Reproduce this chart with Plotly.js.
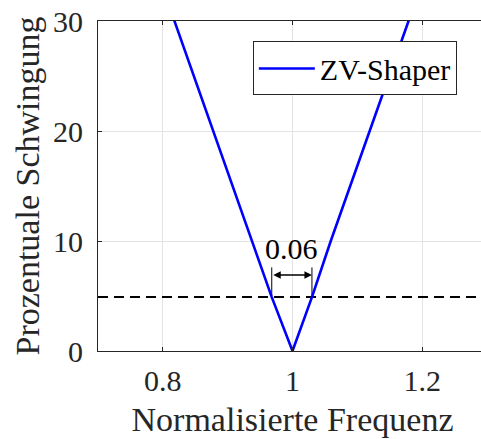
<!DOCTYPE html>
<html>
<head>
<meta charset="utf-8">
<script src="https://cdn.plot.ly/plotly-3.0.1.min.js"></script>
<style>
html, body { margin: 0; padding: 0; overflow: hidden; background: #fff; }
#chart { width: 489px; height: 439px; }
</style>
</head>
<body>
<div id="chart"></div>
<script>
// ZV-Shaper residual vibration
const freq = [0.800, 0.818, 0.848, 0.878, 0.908, 0.938, 0.968, 1.000, 1.030, 1.059, 1.089, 1.118, 1.149, 1.179, 1.200];
const vib  = [33.0, 30.0, 25.0, 20.0, 15.0, 10.0, 4.9, 0.0, 4.9, 10.0, 15.0, 20.0, 25.0, 30.0, 33.4];

// 5 % threshold line
const threshX = [0.7, 1.3];
const threshY = [4.9, 4.9];

// bandwidth marker
const bandLeft = 0.968;
const bandRight = 1.030;
const bandLow = 4.9;
const bandHigh = 7.6;
const arrowY = 6.9;
const bandLabel = '0.06';
const bandLabelY = 9.3;

const xTicks = [0.8, 1, 1.2];
const xTickText = ['0.8', '1', '1.2'];
const yTicks = [0, 10, 20, 30];
const yTickText = ['0', '10', '20', '30'];

const FONT_FAMILY = 'Liberation Serif';
const DARK = '#262626';

const traces = [
  {
    x: threshX, y: threshY, mode: 'lines', showlegend: false, hoverinfo: 'skip',
    line: { color: '#000', width: 2, dash: '10px,6px' }
  },
  {
    x: [bandLeft, bandLeft], y: [bandLow, bandHigh], mode: 'lines', showlegend: false, hoverinfo: 'skip',
    line: { color: '#000', width: 1 }
  },
  {
    x: [bandRight, bandRight], y: [bandLow, bandHigh], mode: 'lines', showlegend: false, hoverinfo: 'skip',
    line: { color: '#000', width: 1 }
  },
  {
    x: freq, y: vib, mode: 'lines', name: 'ZV-Shaper',
    line: { color: '#0000ff', width: 2.6 }
  }
];

const layout = {
  width: 489, height: 439,
  margin: { l: 98, r: 2, t: 21, b: 88, pad: 0 },
  paper_bgcolor: '#fff', plot_bgcolor: '#fff',
  font: { family: FONT_FAMILY, color: DARK },
  showlegend: true,
  legend: {
    x: 0.398, y: 0.938, xanchor: 'left', yanchor: 'top',
    bgcolor: '#fff', bordercolor: DARK, borderwidth: 1,
    font: { family: FONT_FAMILY, size: 30, color: '#000' },
    itemwidth: 56
  },
  xaxis: {
    range: [0.7, 1.3], tickvals: xTicks, ticktext: xTickText,
    ticks: 'inside', ticklen: 4, tickwidth: 1, tickcolor: DARK,
    showline: true, linecolor: DARK, linewidth: 1, mirror: 'ticks',
    showgrid: true, gridcolor: '#e3e3e3', gridwidth: 1, zeroline: false,
    tickfont: { family: FONT_FAMILY, size: 30, color: DARK },
    ticklabelstandoff: 3,
    title: { text: 'Normalisierte Frequenz', font: { family: FONT_FAMILY, size: 34, color: DARK }, standoff: 11 },
    automargin: false
  },
  yaxis: {
    range: [0, 30], tickvals: yTicks, ticktext: yTickText,
    ticks: 'inside', ticklen: 4, tickwidth: 1, tickcolor: DARK,
    showline: true, linecolor: DARK, linewidth: 1, mirror: 'ticks',
    showgrid: true, gridcolor: '#e3e3e3', gridwidth: 1, zeroline: false,
    tickfont: { family: FONT_FAMILY, size: 30, color: DARK },
    ticklabelstandoff: 8,
    title: { text: 'Prozentuale Schwingung', font: { family: FONT_FAMILY, size: 34, color: DARK }, standoff: 3 },
    automargin: false
  },
  annotations: [
    {
      x: bandRight, y: arrowY, ax: bandLeft, ay: arrowY, axref: 'x', ayref: 'y', xref: 'x', yref: 'y',
      text: '', showarrow: true, arrowside: 'end+start', arrowhead: 2, arrowsize: 1, arrowwidth: 1.5,
      arrowcolor: '#000', standoff: 0, startstandoff: 0
    },
    {
      x: (bandLeft + bandRight) / 2, y: bandLabelY, xref: 'x', yref: 'y',
      text: bandLabel, showarrow: false,
      font: { family: FONT_FAMILY, size: 30, color: '#000' }
    }
  ]
};

Plotly.newPlot('chart', traces, layout, { displayModeBar: false, staticPlot: true });
</script>
</body>
</html>
